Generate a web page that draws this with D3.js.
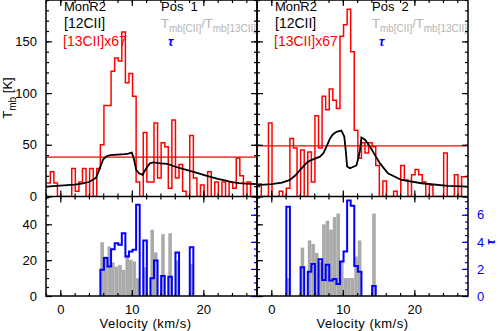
<!DOCTYPE html>
<html>
<head>
<meta charset="utf-8">
<script src="https://cdn.jsdelivr.net/npm/d3@7/dist/d3.min.js"></script>
<style>
	body { margin: 0; background: #fff; }
	svg { display: block; font-family: "Liberation Sans", Arial, sans-serif; }
</style>
</head>
<body>
<div id="chart"></div>
<script>
// channel grid of the rebinned [13CII] data (km/s)
const chanWidth = 0.5;
const chanStart = -1.9;

// [12CII] main beam temperature, Pos 1 / Pos 2
const vel12Pos1 = [-2, -1, 0, 1, 2, 3, 4, 4.5, 5, 5.5, 6, 6.5, 7, 8, 9, 9.5, 10, 10.3, 10.6, 11, 11.5, 12, 12.5, 13, 14, 15, 16, 17, 18, 19, 20, 21, 22, 23, 24, 25, 26, 27.5];
const t12Pos1 = [9.5, 10, 10.5, 11, 11.5, 12.5, 14, 16, 18, 27, 36, 39, 40, 40.5, 41, 41.5, 42.5, 36, 26, 22.5, 21, 27, 32, 33, 32, 31.5, 29, 27, 25, 23, 21, 19, 17, 15.5, 14, 13, 12.5, 12];
const vel12Pos2 = [-2, 0, 1.5, 2.6, 3.3, 4, 5, 5.5, 6.8, 7.3, 7.7, 8.2, 8.6, 9.1, 9.8, 10.2, 10.4, 10.6, 11, 11.9, 12.2, 12.4, 12.6, 13.1, 13.8, 14.5, 15.2, 16.3, 18.2, 21, 24.7, 27.5];
const t12Pos2 = [11, 12, 13.5, 16, 20, 25.5, 33, 35, 38.5, 42, 48, 56, 60, 62.5, 63.7, 58, 45, 29, 27.3, 30, 38, 45, 57, 55, 48, 40, 32, 22.4, 16, 12.8, 10.2, 9.5];

// [13CII] x67, one value per channel from chanStart
const red13Pos1 = [13, 24, 13, 0, 0, 0, 0, 27, 5, 14, 27, 0, 27, 0, 27, 50, 88, 88, 121, 134, 131, 159, 110, 119, 97, 14, 0, 62, 14, 14, 71, 18, 52, 48, 8, 74, 18, 31, 5, 0, 59, 18, 0, 11, 0, 24, 0, 14, 0, 14, 0, 14, 8, 37, 20, 0, 14, 0, 0];
const red13Pos2 = [12, 0, 0, 71, 0, 0, 5, 0, 8, 56, 47, 0, 45, 0, 43, 14, 78, 47, 97, 84, 104, 93, 85, 155, 166, 181, 140, 64, 37, 52, 42, 52, 48, 30, 0, 15, 0, 0, 5, 0, 30, 16, 0, 21, 26, 21, 14, 0, 11, 0, 0, 0, 42, 0, 0, 21, 0, 19, 19];
const redLevel = [38, 49];

// ratio Tmb[CII]/Tmb[13CII] and optical depth tau
const ratioStartPos1 = 5.6;
const ratioPos1 = [30, 22, 27.6, 18.7, 16.4, 17.3, 14.6, 23, 20.2, 19.3, 9.9, 0, 16, 0, 37, 24.3, 0, 34.5, 0, 35, 0, 19.8, 0, 0, 0, 18];
const tauPos1 = [1.93, 2.81, 2.17, 3.46, 3.9, 3.78, 4.64, 2.91, 3.28, 3.41, 6.74, 0, 4.1, 0, 1.31, 2.62, 0, 1.48, 0, 1.43, 0, 3.21, 0, 0, 0, 3.6];
const ratioStartPos2 = 2.1;
const ratioPos2 = [10, 0, 0, 0, 27, 0, 31, 29, 24, 19, 40, 42, 37, 44, 46, 19, 10, 10, 10, 22, 31, 0, 0, 0, 46];
const tauPos2 = [6.6, 0, 0, 0, 2.12, 0, 1.8, 2.37, 0, 2.72, 1.19, 2.3, 1.14, 1.25, 0.89, 2.54, 3.28, 7.06, 6.67, 2.22, 1.8, 0, 0, 0, 0.74];

// ticks
const velDomain = [-2, 27.5];
const velMajor = [0, 10, 20];
const velMinor = d3.range(-2, 28, 2);
const tMajor = [0, 50, 100, 150];
const tMinor = d3.range(0, 191, 10);
const ratioMajor = [0, 20, 40];
const ratioMinor = d3.range(0, 56, 5);
const tauMajor = [0, 2, 4, 6];
const tauMinor = d3.range(0, 7.4, 0.5);

const width = 498;
const height = 331;
const topY0 = 0, topY1 = 196.5, botY1 = 296;
const red = "#ff0000", blue = "#0000ff", grey = "#aaaaaa";

const svg = d3.select("#chart").append("svg")
	.attr("width", width)
	.attr("height", height);

const yTop = d3.scaleLinear().domain([0, 190]).range([topY1, topY0]);
const yRatio = d3.scaleLinear().domain([0, 55.5]).range([botY1, topY1]);
const yTau = d3.scaleLinear().domain([0, 7.35]).range([botY1, topY1]);

const panels = [
	{x0: 46, x1: 257, pos: "Pos 1", vel12: vel12Pos1, t12: t12Pos1, red13: red13Pos1, level: redLevel[0],
		rStart: ratioStartPos1, ratio: ratioPos1, tau: tauPos1, first: true},
	{x0: 257, x1: 468, pos: "Pos 2", vel12: vel12Pos2, t12: t12Pos2, red13: red13Pos2, level: redLevel[1],
		rStart: ratioStartPos2, ratio: ratioPos2, tau: tauPos2, first: false},
];

// step outline runs that start and end on the baseline
function stepRuns(start, vals) {
	const out = [];
	let cur = null;
	vals.forEach((v, i) => {
		const e0 = start + i * chanWidth, e1 = e0 + chanWidth;
		if (v > 0) {
			if (!cur) { cur = [[e0, 0]]; out.push(cur); }
			cur.push([e0, v], [e1, v]);
		} else if (cur) {
			cur.push([cur[cur.length - 1][0], 0]);
			cur = null;
		}
	});
	if (cur) cur.push([cur[cur.length - 1][0], 0]);
	return out;
}

function drawTicks(g, axisFn, scale, minor, major, showLabels, colour, translate, pad = 9) {
	const a1 = g.append("g").attr("transform", translate)
		.call(axisFn(scale).tickValues(minor).tickSize(-3).tickFormat(""));
	const a2 = g.append("g").attr("transform", translate)
		.call(axisFn(scale).tickValues(major).tickSize(-6).tickPadding(pad)
			.tickFormat(showLabels ? d3.format("d") : ""));
	[a1, a2].forEach((a) => {
		a.select(".domain").remove();
		a.selectAll("line").attr("stroke", colour).attr("stroke-width", 1.2);
		a.attr("font-family", null).attr("font-size", 13);
		a.selectAll("text").attr("fill", colour);
	});
}

panels.forEach((p, i) => {
	const x = d3.scaleLinear().domain(velDomain).range([p.x0, p.x1]);
	const g = svg.append("g");

	const clipTop = `clipTop${i}`, clipBot = `clipBot${i}`;
	g.append("clipPath").attr("id", clipTop).append("rect")
		.attr("x", p.x0).attr("y", topY0).attr("width", p.x1 - p.x0).attr("height", topY1 - topY0);
	g.append("clipPath").attr("id", clipBot).append("rect")
		.attr("x", p.x0).attr("y", topY1).attr("width", p.x1 - p.x0).attr("height", botY1 - topY1);

	// top panel: spectra
	const top = g.append("g").attr("clip-path", `url(#${clipTop})`);

	const redPts = p.red13.map((v, k) => [chanStart + k * chanWidth, v]);
	redPts.push([chanStart + p.red13.length * chanWidth, p.red13[p.red13.length - 1]]);
	top.append("path")
		.datum(redPts)
		.attr("fill", "none")
		.attr("stroke", red)
		.attr("stroke-width", 1.5)
		.attr("d", d3.line().curve(d3.curveStepAfter).x((d) => x(d[0])).y((d) => yTop(d[1])));

	top.append("line")
		.attr("x1", p.x0).attr("x2", p.x1)
		.attr("y1", yTop(p.level)).attr("y2", yTop(p.level))
		.attr("stroke", red).attr("stroke-width", 1.3);

	top.append("path")
		.datum(d3.zip(p.vel12, p.t12))
		.attr("fill", "none")
		.attr("stroke", "#000")
		.attr("stroke-width", 1.8)
		.attr("d", d3.line().x((d) => x(d[0])).y((d) => yTop(d[1])));

	// legend texts
	const tx = top.append("g").attr("font-size", 14);
	tx.append("text").attr("x", p.x0 + 18).attr("y", 11).attr("font-size", 13).text("MonR2");
	tx.append("text").attr("x", p.x0 + 18).attr("y", 27.5).text("[12CII]");
	tx.append("text").attr("x", p.x0 + 17).attr("y", 46).attr("fill", red).text("[13CII]x67");
	tx.append("text").attr("x", p.x0 + 115).attr("y", 11).attr("font-size", 13)
		.attr("xml:space", "preserve").text(p.pos.replace(" ", "  "));
	const ratioText = tx.append("text").attr("x", p.x0 + 115).attr("y", 28)
		.attr("font-size", 13).attr("fill", "#b4b4b4");
	ratioText.append("tspan").text("T");
	ratioText.append("tspan").attr("font-size", 10).attr("dy", 4).text("mb[CII]");
	ratioText.append("tspan").attr("dy", -4).text("/T");
	ratioText.append("tspan").attr("font-size", 10).attr("dy", 4).text("mb[13CII]");
	tx.append("text").attr("x", p.x0 + 122).attr("y", 46).attr("fill", blue)
		.attr("font-weight", "bold").attr("font-style", "italic").attr("font-size", 13).text("τ");

	// bottom panel: ratio bars and tau outline
	const bot = g.append("g").attr("clip-path", `url(#${clipBot})`);
	bot.selectAll("rect.ratio")
		.data(p.ratio.map((v, k) => ({v0: p.rStart + k * chanWidth, r: v})).filter((d) => d.r > 0))
		.enter()
		.append("rect")
		.attr("class", "ratio")
		.attr("x", (d) => x(d.v0))
		.attr("width", (d) => x(d.v0 + chanWidth) - x(d.v0))
		.attr("y", (d) => yRatio(d.r))
		.attr("height", (d) => yRatio(0) - yRatio(d.r))
		.attr("fill", grey);

	bot.selectAll("path.tau")
		.data(stepRuns(p.rStart, p.tau))
		.enter()
		.append("path")
		.attr("class", "tau")
		.attr("fill", "none")
		.attr("stroke", blue)
		.attr("stroke-width", 2)
		.attr("d", d3.line().x((d) => x(d[0])).y((d) => yTau(d[1])));

	// axes and ticks
	const ax = g.append("g");
	drawTicks(ax, d3.axisLeft, yTop, tMinor, tMajor, p.first, "#000", `translate(${p.x0},0)`);
	drawTicks(ax, d3.axisRight, yTop, tMinor, tMajor, false, "#000", `translate(${p.x1},0)`);
	drawTicks(ax, d3.axisLeft, yRatio, ratioMinor, ratioMajor, p.first, "#000", `translate(${p.x0},0)`);
	drawTicks(ax, d3.axisRight, yTau, tauMinor, tauMajor, !p.first, blue, `translate(${p.x1},0)`);
	drawTicks(ax, d3.axisTop, x, velMinor, velMajor, false, "#000", `translate(0,${topY0})`);
	drawTicks(ax, d3.axisBottom, x, velMinor, velMajor, false, "#000", `translate(0,${topY1})`);
	drawTicks(ax, d3.axisTop, x, velMinor, velMajor, false, "#000", `translate(0,${topY1})`);
	drawTicks(ax, d3.axisBottom, x, velMinor, velMajor, true, "#000", `translate(0,${botY1})`, 8.5);

	ax.append("rect")
		.attr("x", p.x0).attr("y", topY0)
		.attr("width", p.x1 - p.x0).attr("height", botY1 - topY0)
		.attr("fill", "none").attr("stroke", "#000").attr("stroke-width", 1.5);
	ax.append("line")
		.attr("x1", p.x0).attr("x2", p.x1).attr("y1", topY1).attr("y2", topY1)
		.attr("stroke", "#000").attr("stroke-width", 1.5);

	svg.append("text")
		.attr("x", p.first ? 145.5 : 362.5)
		.attr("y", 327.5)
		.attr("text-anchor", "middle")
		.attr("font-size", 13)
		.attr("letter-spacing", 0.5)
		.text("Velocity (km/s)");
});

// y titles
const yTitle = svg.append("text")
	.attr("transform", "translate(12,98) rotate(-90)")
	.attr("text-anchor", "middle")
	.attr("font-size", 13);
yTitle.append("tspan").text("T");
yTitle.append("tspan").attr("font-size", 10).attr("dy", 4).text("mb");
yTitle.append("tspan").attr("dy", -4).text(" [K]");

svg.append("text")
	.attr("transform", "translate(494.5,242) rotate(-90)")
	.attr("text-anchor", "middle")
	.attr("font-size", 13)
	.attr("font-weight", "bold")
	.attr("font-style", "italic")
	.attr("fill", blue)
	.text("τ");
</script>
</body>
</html>
